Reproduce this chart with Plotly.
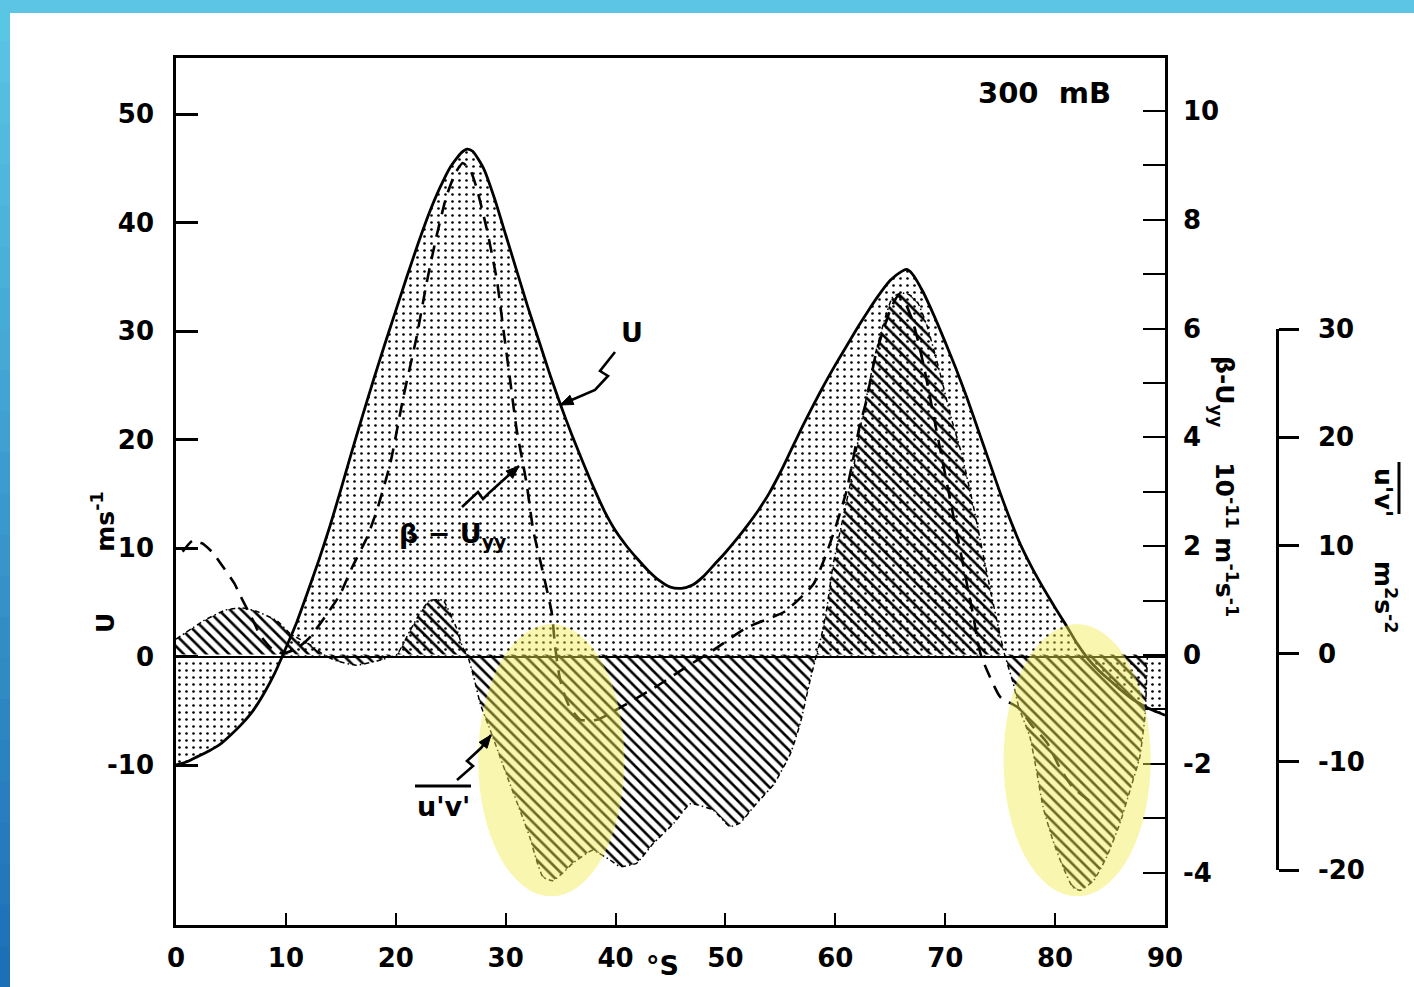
import plotly.graph_objects as go

# ---------------- data ----------------
lat_u = [0, 1, 2, 3, 4, 5, 6, 7, 8, 9, 10, 11, 12, 13, 14, 15, 16, 17, 18, 19, 20,
         21, 22, 23, 24, 25, 26, 26.5, 27, 28, 29, 30, 31, 32, 33, 34, 35, 36, 37, 38,
         39, 40, 41, 42, 43, 44, 45, 46, 47, 48, 49, 50, 51, 52, 53, 54, 55, 56, 57,
         58, 59, 60, 61, 62, 63, 64, 65, 66, 66.5, 67, 68, 69, 70, 71, 72, 73, 74, 75,
         76, 77, 78, 79, 80, 81, 82, 83, 84, 85, 86, 87, 88, 89, 90]
u_wind = [-10.0, -9.7, -9.2, -8.7, -8.1, -7.2, -6.2, -5.0, -3.4, -1.5, 0.8, 3.2, 6.0,
          8.9, 12.0, 15.4, 18.9, 22.3, 25.6, 28.8, 31.9, 35.0, 38.0, 40.8, 43.2, 45.2,
          46.5, 46.8, 46.6, 45.0, 42.2, 38.9, 35.6, 32.3, 29.2, 26.1, 23.2, 20.5, 18.0,
          15.6, 13.4, 11.6, 10.2, 9.0, 7.9, 7.0, 6.4, 6.3, 6.6, 7.4, 8.5, 9.6, 10.8,
          12.1, 13.5, 15.1, 17.0, 19.1, 21.2, 23.2, 25.1, 26.9, 28.6, 30.3, 31.9, 33.4,
          34.7, 35.5, 35.7, 35.3, 33.6, 31.4, 29.0, 26.5, 23.8, 20.9, 18.0, 15.1, 12.4,
          10.0, 8.0, 6.2, 4.5, 2.9, 1.2, -0.2, -1.3, -2.2, -3.1, -3.9, -4.5, -5.0, -5.4]

lat_beta = [0.6, 1.5, 2.4, 3.4, 4.0, 5.3, 5.9, 7.1, 7.6, 8.7, 9.7, 11.0, 12.2, 14.0, 14.9,
            16.0, 17.4, 18.3, 19.5, 20.7, 21.9, 22.8, 23.7, 24.6, 25.4, 26.1, 26.8, 27.4,
            28.3, 29.2, 29.8, 30.4, 31.0, 31.9, 32.5, 33.3, 34.2, 34.5, 34.9, 35.3, 35.8,
            36.8, 38.3, 39.5, 41.6, 43.7, 46.5, 48.9, 51.9, 55.4, 58.0, 59.2, 60.1, 61.0,
            61.6, 62.2, 62.8, 63.7, 65.0, 65.7, 66.4, 67.1, 68.0, 68.9, 69.8, 70.7, 71.6,
            72.5, 73.2, 73.8, 75.0, 76.6, 78.0, 79.3, 80.4, 81.6, 83.4]
beta_uyy = [1.9, 2.1, 2.05, 1.87, 1.7, 1.32, 1.07, 0.6, 0.38, 0.12, 0.03, 0.12, 0.33,
            0.83, 1.1, 1.6, 2.17, 2.67, 3.52, 4.75, 5.85, 6.83, 7.69, 8.42, 8.85, 9.04,
            8.9, 8.55, 7.81, 6.89, 5.97, 5.06, 4.14, 3.16, 2.3, 1.6, 0.77, 0.15, -0.4,
            -0.7, -0.95, -1.19, -1.19, -1.07, -0.83, -0.58, -0.21, 0.09, 0.5, 0.8, 1.3,
            1.87, 2.4, 3.0, 3.58, 4.2, 4.65, 5.54, 6.34, 6.6, 6.45, 6.1, 5.36, 4.44, 3.52,
            2.6, 1.69, 0.77, 0.03, -0.28, -0.77, -0.96, -1.32, -1.62, -2.06, -2.43, -2.72]

lat_uv = [0, 2.5, 4.5, 6.0, 7.3, 9.2, 10.4, 12.2, 13.4, 14.6, 16.4, 18.3, 20.1, 21.3, 22.3,
          23.1, 24.3, 25.5, 26.1, 26.5, 27.1, 27.7, 28.6, 29.5, 30.4, 31.3, 32.2, 32.8,
          33.4, 34.3, 35.2, 36.1, 37.9, 39.5, 40.4, 41.9, 43.4, 45.3, 46.8, 48.9, 50.4,
          51.3, 52.8, 54.4, 55.9, 56.8, 57.7, 58.3, 58.8, 59.2, 59.8, 60.7, 61.6, 62.2,
          62.8, 63.7, 64.5, 65.2, 66.0, 66.8, 67.5, 68.3, 69.4, 70.5, 71.5, 72.5, 73.4,
          74.2, 74.9, 75.4, 76.2, 76.7, 77.7, 78.3, 78.9, 79.8, 80.7, 81.6, 82.3, 83.5,
          84.7, 85.9, 86.8, 87.7, 88.2, 88.4]
uv_flux = [1.4, 3.1, 4.1, 4.3, 4.0, 3.1, 1.9, 0.9, 0.0, -0.6, -1.0, -0.6, 0.0, 2.2, 4.0,
           5.0, 5.0, 2.5, 0.6, 0.0, -2.1, -4.6, -7.0, -9.5, -12.0, -14.4, -16.9, -19.0,
           -20.6, -20.9, -20.2, -19.3, -18.1, -19.0, -19.6, -19.3, -17.5, -15.6, -13.8,
           -14.4, -15.9, -15.6, -13.8, -12.0, -9.2, -6.4, -2.4, 0.0, 2.0, 4.1, 8.3, 12.6,
           16.9, 20.6, 23.6, 28.0, 31.0, 33.0, 33.4, 33.2, 32.5, 30.5, 26.5, 22.0, 18.5,
           14.0, 9.5, 5.5, 2.2, 0.0, -2.7, -4.9, -7.6, -10.7, -14.1, -17.2, -19.6, -21.5,
           -21.8, -20.9, -18.7, -15.6, -12.6, -9.5, -5.5, 0.0]

x_ticks = [0, 10, 20, 30, 40, 50, 60, 70, 80, 90]
x_ticklabels = ["0", "10", "20", "30", "40", "50", "60", "70", "80", "90"]
u_ticks = [-10, 0, 10, 20, 30, 40, 50]
u_ticklabels = ["-10", "0", "10", "20", "30", "40", "50"]
beta_ticks = [-4, -2, 0, 2, 4, 6, 8, 10]
beta_ticklabels = ["-4", "-2", "0", "2", "4", "6", "8", "10"]
beta_minor_ticks = [-3, -1, 1, 3, 5, 7, 9]
uv_ticks = [-20, -10, 0, 10, 20, 30]
uv_ticklabels = ["-20", "-10", "0", "10", "20", "30"]

# highlighted regions (lat range, value range in m/s units)
highlight_lat = [(27.5, 40.8), (75.3, 88.7)]
highlight_val = (-22.1, 3.0)

# ---------------- layout geometry ----------------
L, T, W, H = 176, 58, 1224, 867
FIG_W, FIG_H = 1414, 987


def PX(px):
    return (px - L) / W


def PY(py):
    return (T + H - py) / H


FONT = "DejaVu Sans"
tickfont = dict(family=FONT, size=26, color="black", weight="bold")

fig = go.Figure()

fig.add_trace(go.Scatter(
    x=lat_u, y=u_wind, mode="lines", name="U",
    line=dict(color="black", width=2.8, shape="spline", smoothing=0.6),
    fill="tozeroy", fillcolor="rgba(0,0,0,0)",
    fillpattern=dict(shape=".", fgcolor="black", bgcolor="rgba(0,0,0,0)",
                     size=7, solidity=0.11),
    showlegend=False, hoverinfo="skip"))

fig.add_trace(go.Scatter(
    x=lat_uv, y=uv_flux, mode="lines", name="u'v'", yaxis="y2",
    line=dict(color="black", width=1.5, dash="5px,3px,1.5px,3px",
              shape="spline", smoothing=0.4),
    fill="tozeroy", fillcolor="rgba(0,0,0,0)",
    fillpattern=dict(shape="\\", fgcolor="black", bgcolor="rgba(0,0,0,0)",
                     size=8, solidity=0.33),
    showlegend=False, hoverinfo="skip"))

fig.add_trace(go.Scatter(
    x=lat_beta, y=beta_uyy, mode="lines", name="beta-Uyy", yaxis="y3",
    line=dict(color="black", width=2.6, dash="14px,9px", shape="spline", smoothing=0.5),
    showlegend=False, hoverinfo="skip"))

# dummy trace so the separate u'v' bracket axis is drawn
fig.add_trace(go.Scatter(x=[None], y=[None], yaxis="y4", showlegend=False,
                         hoverinfo="skip"))

x_end = PX(1165)

fig.update_layout(
    template="none",
    width=FIG_W, height=FIG_H, autosize=False,
    margin=dict(l=L, r=FIG_W - L - W, t=T, b=FIG_H - T - H, pad=0),
    paper_bgcolor="white", plot_bgcolor="rgba(0,0,0,0)",
    showlegend=False,
    xaxis=dict(domain=[0, x_end], range=[0, 90], tickmode="array",
               tickvals=x_ticks, ticktext=x_ticklabels, ticks="inside", ticklen=12,
               tickwidth=2, tickcolor="black", showline=True, linewidth=2.5,
               linecolor="black", mirror=True, showgrid=False, zeroline=False,
               tickfont=tickfont, ticklabelstandoff=8, anchor="y", automargin=False),
    yaxis=dict(domain=[0, 1], range=[-24.75, 55.2], tickmode="array",
               tickvals=u_ticks, ticktext=u_ticklabels, ticks="inside", ticklen=22,
               tickwidth=2.5, tickcolor="black", showline=True, linewidth=2.5,
               linecolor="black", mirror=True, showgrid=False, zeroline=True,
               zerolinecolor="black", zerolinewidth=2, tickfont=tickfont,
               ticklabelstandoff=14, automargin=False),
    yaxis2=dict(overlaying="y", range=[-25.0, 55.1], visible=False,
                showgrid=False, zeroline=False, automargin=False),
    yaxis3=dict(overlaying="y", side="right", anchor="x", range=[-4.96, 10.97],
                tickmode="array", tickvals=beta_ticks, ticktext=beta_ticklabels,
                ticks="inside", ticklen=22, tickwidth=2, tickcolor="black",
                minor=dict(tickmode="array", tickvals=beta_minor_ticks, ticks="inside",
                           ticklen=22, tickwidth=2, tickcolor="black", showgrid=False),
                showline=True, linewidth=2.5, linecolor="black", showgrid=False,
                zeroline=False, tickfont=tickfont, ticklabelstandoff=10,
                automargin=False),
    yaxis4=dict(domain=[PY(870), PY(329)], anchor="free", position=PX(1277),
                side="right", range=[-20, 30], tickmode="array", tickvals=uv_ticks,
                ticktext=uv_ticklabels, ticks="outside", ticklen=20, tickwidth=2.5,
                tickcolor="black", showline=True, linewidth=2.5, linecolor="black",
                showgrid=False, zeroline=False, tickfont=tickfont,
                ticklabelstandoff=14, automargin=False),
)

shapes = []

# slide frame (blue strips)
n_band = 24
for i in range(n_band):
    f = i / (n_band - 1)
    r = int(90 + (30 - 90) * f)
    g = int(198 + (112 - 198) * f)
    b = int(230 + (182 - 230) * f)
    y0 = i * FIG_H / n_band
    y1 = (i + 1) * FIG_H / n_band + 1
    shapes.append(dict(type="rect", xref="paper", yref="paper", x0=PX(0), x1=PX(10),
                       y0=PY(y1), y1=PY(y0), fillcolor=f"rgb({r},{g},{b})",
                       line=dict(width=0), layer="above"))
shapes.append(dict(type="rect", xref="paper", yref="paper", x0=PX(0), x1=PX(FIG_W),
                   y0=PY(13), y1=PY(0), fillcolor="rgb(92,196,228)",
                   line=dict(width=0), layer="above"))

# yellow highlight ellipses
for (a, b) in highlight_lat:
    shapes.append(dict(type="circle", xref="x", yref="y", x0=a, x1=b,
                       y0=highlight_val[0], y1=highlight_val[1],
                       fillcolor="rgba(242,234,80,0.45)", line=dict(width=0),
                       layer="above"))


def path_from(points):
    return "M " + " L ".join(f"{PX(x):.5f},{PY(y):.5f}" for x, y in points)


def arrow(points):
    shapes.append(dict(type="path", xref="paper", yref="paper", path=path_from(points),
                       line=dict(color="black", width=2.6), layer="above"))
    (x1, y1), (x2, y2) = points[-2], points[-1]
    dx, dy = x2 - x1, y2 - y1
    n = (dx * dx + dy * dy) ** 0.5
    ux, uy = dx / n, dy / n
    bx, by = x2 - 13 * ux, y2 - 13 * uy
    px_, py_ = -uy, ux
    head = [(x2, y2), (bx + 5 * px_, by + 5 * py_), (bx - 5 * px_, by - 5 * py_)]
    shapes.append(dict(type="path", xref="paper", yref="paper",
                       path=path_from(head) + " Z", fillcolor="black",
                       line=dict(color="black", width=1), layer="above"))


# squiggly pointer arrows
arrow([(615, 352), (600, 371), (608, 376), (595, 390), (560, 405)])
arrow([(462, 507), (478, 492), (483, 499), (489, 493), (519, 466)])
arrow([(457, 780), (473, 766), (467, 761), (481, 748), (491, 735)])

# overlines for u'v'
shapes.append(dict(type="line", xref="paper", yref="paper", x0=PX(415), x1=PX(471),
                   y0=PY(786), y1=PY(786), line=dict(color="black", width=3),
                   layer="above"))
shapes.append(dict(type="line", xref="paper", yref="paper", x0=PX(1399), x1=PX(1399),
                   y0=PY(462), y1=PY(514), line=dict(color="black", width=3),
                   layer="above"))

fig.update_layout(shapes=shapes)

labfont = dict(family=FONT, size=27, color="black", weight="bold")
annotations = [
    dict(text="300  mB", x=PX(1044), y=PY(93),
         font=dict(family=FONT, size=29, color="black", weight="bold")),
    dict(text="U", x=PX(632), y=PY(332), font=labfont),
    dict(text="β − U<sub>yy</sub>", x=PX(452), y=PY(535), font=labfont),
    dict(text="u'v'", x=PX(443), y=PY(806), font=labfont),
    dict(text="°S", x=PX(662), y=PY(966), font=labfont),
    dict(text="U       ms<sup>-1</sup>", x=PX(103), y=PY(562), textangle=-90,
         font=dict(family=FONT, size=25, color="black", weight="bold")),
    dict(text="β-U<sub>yy</sub>    10<sup>-11</sup> m<sup>-1</sup>s<sup>-1</sup>",
         x=PX(1224), y=PY(486), textangle=90,
         font=dict(family=FONT, size=25, color="black", weight="bold")),
    dict(text="u'v'     m<sup>2</sup>s<sup>-2</sup>", x=PX(1385), y=PY(551),
         textangle=90, font=dict(family=FONT, size=25, color="black", weight="bold")),
]
for a in annotations:
    a.update(xref="paper", yref="paper", showarrow=False, xanchor="center",
             yanchor="middle")
fig.update_layout(annotations=annotations)

fig.write_html(
    "out.html",
    config={"displayModeBar": False},
    post_script="document.body.style.margin='0px';"
                "document.body.style.overflow='hidden';")
